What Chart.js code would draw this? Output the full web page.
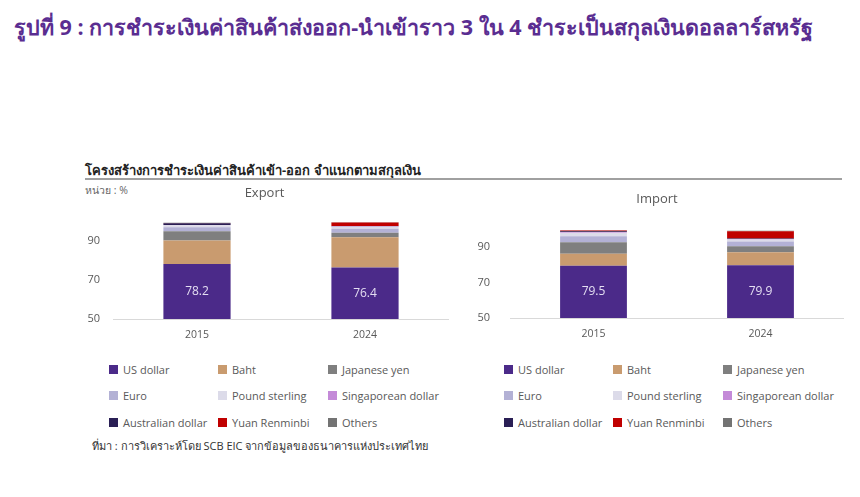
<!DOCTYPE html>
<html>
<head>
<meta charset="utf-8">
<script src="https://cdn.jsdelivr.net/npm/chart.js@4.4.1/dist/chart.umd.min.js"></script>
<style>
  html, body { margin: 0; padding: 0; background: #fff; }
  body { width: 860px; height: 497px; position: relative; overflow: hidden; font-family: "Open Sans", "Noto Sans", sans-serif; }
  .abs { position: absolute; white-space: nowrap; }
  #head { left: 14px; top: 10px; font-size: 21.5px; font-weight: bold; color: #5a2d91; }
  #sub { left: 85px; top: 160px; font-size: 13px; font-weight: bold; color: #222; }
  #rule { left: 85px; top: 178px; width: 757px; height: 2px; background: #a0a0a0; }
  #unit { left: 85px; top: 182px; font-size: 10.5px; color: #666; }
  #src { left: 92px; top: 437px; font-size: 11px; color: #333; }
  canvas { position: absolute; }
  .leg { position: absolute; font-size: 11px; color: #595959; white-space: nowrap; }
  .leg i { position: absolute; left: 0; top: 3px; width: 9px; height: 9px; }
  .leg span { position: absolute; left: 14px; top: 0; line-height: 15px; }
</style>
</head>
<body>
<div id="head" class="abs">รูปที่ 9 : การชำระเงินค่าสินค้าส่งออก-นำเข้าราว 3 ใน 4 ชำระเป็นสกุลเงินดอลลาร์สหรัฐ</div>
<div id="sub" class="abs">โครงสร้างการชำระเงินค่าสินค้าเข้า-ออก จำแนกตามสกุลเงิน</div>
<div id="rule" class="abs"></div>
<div id="unit" class="abs">หน่วย : %</div>
<div id="src" class="abs">ที่มา : การวิเคราะห์โดย SCB EIC จากข้อมูลของธนาคารแห่งประเทศไทย</div>

<canvas id="chartExport" style="left:80px; top:180px; width:369px; height:170px;"></canvas>
<canvas id="chartImport" style="left:470px; top:180px; width:374px; height:170px;"></canvas>

<script>
var years = ['2015', '2024'];
var currencies = ['US dollar', 'Baht', 'Japanese yen', 'Euro', 'Pound sterling', 'Singaporean dollar', 'Australian dollar', 'Yuan Renminbi', 'Others'];
var colors = ['#4b2a89', '#c99b6f', '#7f7f7f', '#b3b1d5', '#dcdbe9', '#c48ad8', '#2a1f55', '#c00000', '#737373'];

// shares in %, one row per currency: [2015, 2024]
var exportShares = [
    [78.2, 76.4],
    [12.1, 15.6],
    [4.8, 2.3],
    [2.0, 2.0],
    [1.0, 1.1],
    [0.2, 0.2],
    [0.9, 0.2],
    [0.1, 1.8],
    [0.1, 0.1]
];
var importShares = [
    [79.5, 79.9],
    [6.8, 7.3],
    [6.5, 3.4],
    [3.5, 2.6],
    [1.9, 1.2],
    [0.5, 0.3],
    [0.3, 0.2],
    [0.5, 4.2],
    [0.2, 0.2]
];
var yTicks = [50, 70, 90];

var usdLabels = {
    id: 'usdLabels',
    afterDatasetsDraw: function (chart) {
        var ctx = chart.ctx;
        var meta = chart.getDatasetMeta(0);
        var bottom = chart.chartArea.bottom;
        ctx.save();
        ctx.fillStyle = '#e4def2';
        ctx.font = '12px "Open Sans", sans-serif';
        ctx.textAlign = 'center';
        ctx.textBaseline = 'middle';
        meta.data.forEach(function (bar, i) {
            var v = chart.data.datasets[0].data[i];
            ctx.fillText(v.toFixed(1), bar.x, (bar.y + Math.min(bar.base, bottom)) / 2);
        });
        ctx.restore();
    }
};

function mk(id, title, shares, yWidth, pad) {
    var el = document.getElementById(id);
    new Chart(el, {
        type: 'bar',
        data: {
            labels: years,
            datasets: currencies.map(function (name, k) {
                return { label: name, data: shares[k], backgroundColor: colors[k], borderWidth: 0,
                         categoryPercentage: 1, barPercentage: 0.4 };
            })
        },
        options: {
            responsive: false,
            animation: false,
            layout: { padding: { left: 0, right: 0, top: 0, bottom: pad.bottom } },
            plugins: {
                legend: { display: false },
                tooltip: { enabled: false },
                title: { display: true, text: title, color: '#595959',
                         font: { size: 13, family: '"Open Sans", sans-serif', weight: 'normal' },
                         padding: { top: pad.top, bottom: pad.gap } }
            },
            scales: {
                x: {
                    stacked: true,
                    grid: { display: false, drawTicks: false },
                    border: { display: true, color: '#d9d9d9', width: 1 },
                    ticks: { color: '#595959', padding: 10, font: { size: 10.5, family: '"Open Sans", sans-serif' } },
                    afterFit: function (s) { s.height = 28; }
                },
                y: {
                    stacked: true,
                    min: 50, max: 100,
                    grid: { display: false, drawTicks: false },
                    border: { display: false },
                    afterBuildTicks: function (s) { s.ticks = yTicks.map(function (v) { return { value: v }; }); },
                    ticks: { color: '#595959', padding: pad.tick, font: { size: 11, family: '"Open Sans", sans-serif' } },
                    afterFit: function (s) { s.width = yWidth; }
                }
            }
        },
        plugins: [usdLabels]
    });
}

function legend(left, top) {
    var colX = [0, 109, 219];
    var rowY = [0, 26, 53];
    currencies.forEach(function (name, k) {
        var d = document.createElement('div');
        d.className = 'leg';
        d.style.left = (left + colX[k % 3]) + 'px';
        d.style.top = (top + rowY[Math.floor(k / 3)]) + 'px';
        d.innerHTML = '<i style="background:' + colors[k] + '"></i><span>' + name + '</span>';
        document.body.appendChild(d);
    });
}

mk('chartExport', 'Export', exportShares, 33, { top: 5, gap: 21, bottom: 3, tick: 13 });
mk('chartImport', 'Import', importShares, 40, { top: 11, gap: 23, bottom: 4, tick: 20 });
legend(109, 362);
legend(504, 362);
</script>
</body>
</html>
